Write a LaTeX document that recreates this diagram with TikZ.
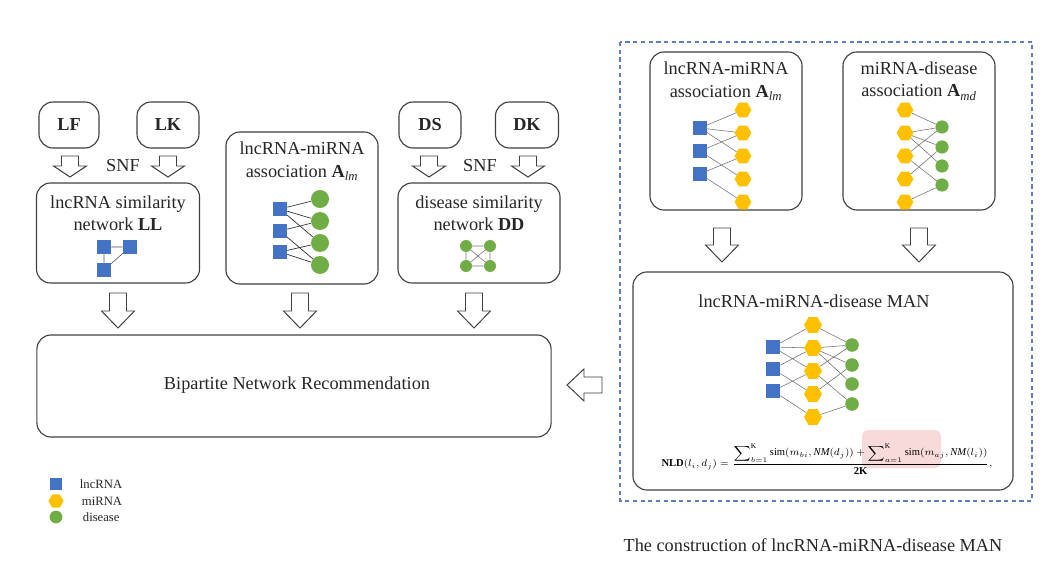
\documentclass[tikz,border=0pt]{standalone}
\usepackage{fontspec}
\usepackage{amsmath}
\setmainfont{Liberation Serif}
\usetikzlibrary{shapes.geometric}
\definecolor{lncblue}{HTML}{4472C4}
\definecolor{migold}{HTML}{FFC000}
\definecolor{disgreen}{HTML}{70AD47}
\definecolor{boxgray}{HTML}{404040}
\definecolor{dashblue}{HTML}{5B7FC0}
\definecolor{hlpink}{HTML}{F9DADA}
\tikzset{
  rbox/.style={draw=boxgray, line width=0.8pt, rounded corners=10pt, inner sep=0pt},
  title/.style={font=\fontsize{13}{16}\selectfont, align=center, text=black!85},
  lnc/.style={fill=lncblue, minimum size=0.33cm, inner sep=0pt},
  mir/.style={regular polygon, regular polygon sides=6, fill=migold, minimum size=0.45cm, inner sep=0pt},
  dis/.style={circle, fill=disgreen, minimum size=0.33cm, inner sep=0pt},
  link/.style={draw=black!55, line width=0.4pt},
  blockline/.style={draw=boxgray, line width=0.7pt, fill=white, line join=miter},
  legendtext/.style={font=\fontsize{9}{10}\selectfont, anchor=west, text=black!85},
  pics/downblock/.style 2 args={code={
    \draw[blockline] (-8.5,0) -- (8.5,0) -- (8.5,#1-#2) -- (16.5,#1-#2) -- (0,#1)
      -- (-16.5,#1-#2) -- (-8.5,#1-#2) -- cycle;}},
  pics/leftblock/.style={code={
    \draw[blockline] (0,-8) -- (0,8) -- (-18,8) -- (-18,16) -- (-35,0) -- (-18,-16)
      -- (-18,-8) -- cycle;}}
}
\begin{document}
\begin{tikzpicture}[x=0.025cm, y=-0.025cm]
    \useasboundingbox (0,0) rectangle (1061,571);
    \node[rbox, minimum width=1.5cm, minimum height=1.15cm] (LF) at (69,125) {};
    \node[rbox, minimum width=1.55cm, minimum height=1.15cm] (LK) at (168,125) {};
    \node[title] (LFt) at (LF) {\textbf{LF}};
    \node[title] (LKt) at (LK) {\textbf{LK}};
    \pic (arLF) at (70,156) {downblock={21}{11}};
    \pic (arLK) at (168,156) {downblock={21}{11}};
    \node[title] (snfL) at (123,166) {SNF};
    \node[rbox, minimum width=4.075cm, minimum height=2.5cm] (LL) at (118,233) {};
    \node[title] (LLt) at (118,213) {lncRNA similarity\\network \textbf{LL}};
    \node[lnc, minimum size=0.35cm] (ll1) at (104,247) {};
    \node[lnc, minimum size=0.35cm] (ll2) at (130,247) {};
    \node[lnc, minimum size=0.35cm] (ll3) at (104,270) {};
    \draw[link, draw=black!70] (ll1) -- (ll2) (ll1) -- (ll3) (ll3) -- (ll2);

    \node[rbox, minimum width=3.8cm, minimum height=3.8cm] (LA) at (302,208) {};
    \node[title] (LAt) at (302,161) {lncRNA-miRNA\\association \textbf{A}\textsubscript{\textit{lm}}};
    \node[lnc, minimum size=0.35cm] (la1) at (280,209) {};
    \node[lnc, minimum size=0.35cm] (la2) at (280,231) {};
    \node[lnc, minimum size=0.35cm] (la3) at (280,252) {};
    \node[dis, minimum size=0.45cm] (lc1) at (320,199) {};
    \node[dis, minimum size=0.45cm] (lc2) at (320,221) {};
    \node[dis, minimum size=0.45cm] (lc3) at (320,243) {};
    \node[dis, minimum size=0.45cm] (lc4) at (320,265) {};
    \draw[link, draw=black!80, line width=0.5pt] (la1) -- (lc1) (la1) -- (lc2) (la1) -- (lc3) (la2) -- (lc2)
      (la2) -- (lc4) (la3) -- (lc3) (la3) -- (lc4);

    \node[rbox, minimum width=1.55cm, minimum height=1.15cm] (DS) at (430,125) {};
    \node[rbox, minimum width=1.575cm, minimum height=1.15cm] (DK) at (527,125) {};
    \node[title] (DSt) at (DS) {\textbf{DS}};
    \node[title] (DKt) at (DK) {\textbf{DK}};
    \pic (arDS) at (429,156) {downblock={21}{11}};
    \pic (arDK) at (528,156) {downblock={21}{11}};
    \node[title] (snfD) at (480,166) {SNF};
    \node[rbox, minimum width=4.05cm, minimum height=2.5cm] (DD) at (479,233) {};
    \node[title] (DDt) at (479,213) {disease similarity\\network \textbf{DD}};
    \node[dis, minimum size=0.3cm] (dd1) at (466,246) {};
    \node[dis, minimum size=0.3cm] (dd2) at (490,246) {};
    \node[dis, minimum size=0.3cm] (dd3) at (466,266) {};
    \node[dis, minimum size=0.3cm] (dd4) at (490,266) {};
    \draw[link] (dd1) -- (dd2) (dd1) -- (dd3) (dd2) -- (dd4) (dd3) -- (dd4)
      (dd1) -- (dd4) (dd2) -- (dd3);

    \pic (arLL) at (118,293) {downblock={35}{17}};
    \pic (arLA) at (300,293) {downblock={35}{17}};
    \pic (arDD) at (474,293) {downblock={35}{17}};
    \node[rbox, minimum width=12.85cm, minimum height=2.55cm] (BNR) at (294,386) {};
    \node[title] (BNRt) at (297,385) {Bipartite Network Recommendation};
    \pic (arMAN) at (602,385) {leftblock};

    \node[lnc, minimum size=0.3cm] (lg1) at (56,484) {};
    \node[mir, minimum size=0.38cm] (lg2) at (56,501) {};
    \node[dis, minimum size=0.32cm] (lg3) at (56,517) {};
    \node[legendtext] (lg1t) at (75,484) {lncRNA};
    \node[legendtext] (lg2t) at (77,501) {miRNA};
    \node[legendtext] (lg3t) at (78,517) {disease};

    \draw[dashblue, line width=0.8pt, dash pattern=on 3pt off 2.5pt] (620,42) rectangle (1032,501);
    \node[rbox, minimum width=3.8cm, minimum height=3.95cm] (RA) at (726,131) {};
    \node[title] (RAt) at (726,81) {lncRNA-miRNA\\association \textbf{A}\textsubscript{\textit{lm}}};
    \node[lnc] (ra1) at (700,128) {};
    \node[lnc] (ra2) at (700,151) {};
    \node[lnc] (ra3) at (700,174) {};
    \node[mir, minimum size=0.42cm] (rm1) at (743,110) {};
    \node[mir, minimum size=0.42cm] (rm2) at (743,133) {};
    \node[mir, minimum size=0.42cm] (rm3) at (743,156) {};
    \node[mir, minimum size=0.42cm] (rm4) at (743,179) {};
    \node[mir, minimum size=0.42cm] (rm5) at (743,202) {};
    \draw[link] (ra1) -- (rm1) (ra1) -- (rm2) (ra1) -- (rm3) (ra2) -- (rm2) (ra2) -- (rm4)
      (ra3) -- (rm3) (ra3) -- (rm5);

    \node[rbox, minimum width=3.8cm, minimum height=3.95cm] (MD) at (919,131) {};
    \node[title] (MDt) at (919,81) {miRNA-disease\\association \textbf{A}\textsubscript{\textit{md}}};
    \node[mir, minimum size=0.42cm] (mm1) at (905,110) {};
    \node[mir, minimum size=0.42cm] (mm2) at (905,133) {};
    \node[mir, minimum size=0.42cm] (mm3) at (905,156) {};
    \node[mir, minimum size=0.42cm] (mm4) at (905,179) {};
    \node[mir, minimum size=0.42cm] (mm5) at (905,202) {};
    \node[dis] (md1) at (942,127) {};
    \node[dis] (md2) at (942,147) {};
    \node[dis] (md3) at (942,166) {};
    \node[dis] (md4) at (942,185) {};
    \draw[link] (mm1) -- (md1) (mm2) -- (md1) (mm2) -- (md2) (mm2) -- (md3) (mm3) -- (md1)
      (mm3) -- (md4) (mm4) -- (md2) (mm5) -- (md4);

    \pic (arRA) at (722,228) {downblock={34}{17}};
    \pic (arMD) at (919,228) {downblock={34}{17}};

    \node[rbox, minimum width=9.5cm, minimum height=5.45cm] (MAN) at (823,381) {};
    \node[title] (MANt) at (814,301) {lncRNA-miRNA-disease MAN};
    \node[lnc, minimum size=0.35cm] (ns1) at (773,347) {};
    \node[lnc, minimum size=0.35cm] (ns2) at (773,369) {};
    \node[lnc, minimum size=0.35cm] (ns3) at (773,391) {};
    \node[mir] (nm1) at (813,325) {};
    \node[mir] (nm2) at (813,348) {};
    \node[mir] (nm3) at (813,371) {};
    \node[mir] (nm4) at (813,394) {};
    \node[mir] (nm5) at (813,417) {};
    \node[dis, minimum size=0.34cm] (nd1) at (852,345) {};
    \node[dis, minimum size=0.34cm] (nd2) at (852,365) {};
    \node[dis, minimum size=0.34cm] (nd3) at (852,384) {};
    \node[dis, minimum size=0.34cm] (nd4) at (852,404) {};
    \draw[link] (ns1) -- (nm1) (ns1) -- (nm2) (ns1) -- (nm3) (ns2) -- (nm2) (ns2) -- (nm4)
      (ns3) -- (nm3) (ns3) -- (nm5);
    \draw[link] (nm1) -- (nd1) (nm2) -- (nd1) (nm2) -- (nd2) (nm2) -- (nd3) (nm3) -- (nd1)
      (nm3) -- (nd4) (nm4) -- (nd2) (nm5) -- (nd4);
    \fill[hlpink, rounded corners=4pt] (862,430) rectangle (941,468);
    \node[font=\fontsize{7.5}{9}\selectfont] (NLD) at (827,459)
      {$\mathbf{NLD}(l_i,d_j)=\dfrac{\displaystyle\sum\nolimits_{b=1}^{\mathrm{K}}\mathrm{sim}(m_{bi},\mathit{NM}(d_j))+\sum\nolimits_{a=1}^{\mathrm{K}}\mathrm{sim}(m_{aj},\mathit{NM}(l_i))}{\mathbf{2K}},$};

    \node[title] (cap) at (813,545) {The construction of lncRNA-miRNA-disease MAN};
  \end{tikzpicture}
\end{document}
